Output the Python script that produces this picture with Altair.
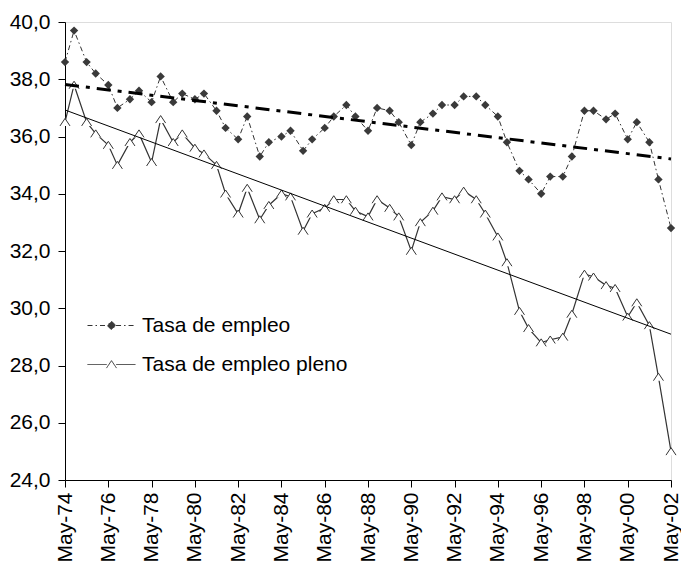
import altair as alt
import pandas as pd

# x categories: surveys in May and October, May-74 .. May-02
years = list(range(1974, 2003))
dates = []
for y in years:
    dates.append(f"{y}-05-01")
    if y < 2002:
        dates.append(f"{y}-10-01")

tasa_empleo = [
    38.6, 39.7, 38.6, 38.2, 37.8, 37.0, 37.3, 37.6, 37.2, 38.1,
    37.2, 37.5, 37.3, 37.5, 36.9, 36.3, 35.9, 36.7, 35.3, 35.8,
    36.0, 36.2, 35.5, 35.9, 36.3, 36.7, 37.1, 36.7, 36.2, 37.0,
    36.9, 36.5, 35.7, 36.5, 36.8, 37.1, 37.1, 37.4, 37.4, 37.1,
    36.7, 35.8, 34.8, 34.5, 34.0, 34.6, 34.6, 35.3, 36.9, 36.9,
    36.6, 36.8, 35.9, 36.5, 35.8, 34.5, 32.8,
]

tasa_pleno = [
    36.5, 37.8, 36.5, 36.1, 35.7, 35.0, 35.8, 36.1, 35.1, 36.6,
    35.8, 36.1, 35.6, 35.4, 35.0, 34.0, 33.3, 34.2, 33.1, 33.6,
    34.0, 33.9, 32.7, 33.3, 33.5, 33.8, 33.8, 33.4, 33.2, 33.8,
    33.5, 33.2, 32.0, 33.0, 33.4, 33.9, 33.8, 34.1, 33.8, 33.3,
    32.5, 31.6, 29.9, 29.3, 28.8, 28.9, 29.0, 29.8, 31.2, 31.1,
    30.8, 30.7, 29.7, 30.2, 29.4, 27.6, 25.0,
]

series_names = ["Tasa de empleo", "Tasa de empleo pleno"]
y_ticks = [24, 26, 28, 30, 32, 34, 36, 38, 40]
x_tick_years = list(range(1974, 2003, 2))

df_e = pd.DataFrame({"date": dates, "value": tasa_empleo, "series": series_names[0]})
df_p = pd.DataFrame({"date": dates, "value": tasa_pleno, "series": series_names[1]})
df_leg = pd.DataFrame({"date": ["1990-01-01", "1990-01-01"], "value": [10, 10], "series": series_names})

FONT = "Liberation Sans"
FS = 21
DARK = "#333333"

x_enc = alt.X(
    "date:T",
    scale=alt.Scale(type="utc", domain=[alt.DateTime(year=1974, month=5, date=1, utc=True),
                                        alt.DateTime(year=2002, month=5, date=1, utc=True)]),
    axis=alt.Axis(
        title=None,
        labelExpr="utcFormat(datum.value, '%b') + '-' + utcFormat(datum.value, '%y')",
        values=[alt.DateTime(year=y, month=5, date=1, utc=True) for y in x_tick_years],
        labelAngle=-90, labelAlign="right", labelBaseline="middle",
        labelFont=FONT, labelFontSize=FS, labelColor="black", labelLimit=300,
        tickSize=7, tickColor="black", domainColor="black", labelPadding=5,
        grid=False, labelOverlap=False, labelFlush=False,
    ),
)
y_enc = alt.Y(
    "value:Q",
    scale=alt.Scale(domain=[24, 40], nice=False, zero=False),
    axis=alt.Axis(
        title=None, values=y_ticks,
        labelExpr="replace(format(datum.value, '.1f'), '.', ',')",
        labelFont=FONT, labelFontSize=FS, labelColor="black",
        tickSize=7, tickColor="black", domainColor="black", labelPadding=8,
        grid=False,
    ),
)

base_e = alt.Chart(df_e)
base_p = alt.Chart(df_p)

line_e = base_e.mark_line(color=DARK, strokeWidth=1, strokeDash=[5, 3, 1.5, 3]).encode(x=x_enc, y=y_enc)
pts_e = base_e.mark_point(shape="diamond", filled=True, size=70, color="#3a3a3a", opacity=1).encode(x=x_enc, y=y_enc)

line_p = base_p.mark_line(color=DARK, strokeWidth=1.2).encode(x=x_enc, y=y_enc)
TRI_CLOSED = "M -1 0.75 L 0 -0.75 L 1 0.75 Z"
TRI_OPEN = "M -1 0.75 L 0 -0.75 L 1 0.75"
pts_p_fill = base_p.mark_point(shape=TRI_CLOSED, filled=True, fill="white", strokeWidth=0, size=100, opacity=1).encode(x=x_enc, y=y_enc)
pts_p = base_p.mark_point(shape=TRI_OPEN, filled=False, stroke=DARK, strokeWidth=1, size=100, opacity=1).encode(x=x_enc, y=y_enc)

trend_e = base_e.transform_regression("date", "value").mark_line(
    color="black", strokeWidth=3, strokeDash=[14, 7, 4, 7]).encode(x=x_enc, y=y_enc)
trend_p = base_p.transform_regression("date", "value").mark_line(
    color="black", strokeWidth=1).encode(x=x_enc, y=y_enc)

LEG_E = "M -2 0 L -0.38 0 M 0.38 0 L 2 0 M 0 -0.36 L 0.36 0 L 0 0.36 L -0.36 0 Z"
LEG_P = "M -2 0 L -0.4 0 M 0.4 0 L 2 0 M -0.42 0.3 L 0 -0.32 L 0.42 0.3"

leg = alt.Legend(
    title=None, orient="none", legendX=34, legendY=291,
    labelFont=FONT, labelFontSize=FS, labelColor="black", labelLimit=400,
    rowPadding=16, labelOffset=18, symbolSize=576,
    symbolStrokeWidth=1,
)
legend_layer = alt.Chart(df_leg).mark_point(size=576, filled=True, strokeWidth=1, opacity=1, clip=True).encode(
    x=x_enc, y=y_enc,
    shape=alt.Shape("series:N", scale=alt.Scale(domain=series_names, range=[LEG_E, LEG_P]), legend=leg),
    fill=alt.Fill("series:N", scale=alt.Scale(domain=series_names, range=["#3a3a3a", "white"]), legend=leg),
    stroke=alt.Stroke("series:N", scale=alt.Scale(domain=series_names, range=[DARK, DARK]), legend=leg),
    strokeDash=alt.StrokeDash("series:N", scale=alt.Scale(domain=series_names, range=[[5, 3, 1.5, 3], [1, 0]]), legend=leg),
)

chart = alt.layer(
    line_e, pts_e, line_p, pts_p_fill, pts_p, trend_e, trend_p, legend_layer
).properties(
    width=606, height=458,
    padding={"left": 57, "top": 14, "right": 10, "bottom": 84},
    autosize=alt.AutoSizeParams(type="none"),
).configure_view(stroke=None).configure(background="white")

chart.save("out.html", embed_options={"renderer": "svg", "actions": False})
